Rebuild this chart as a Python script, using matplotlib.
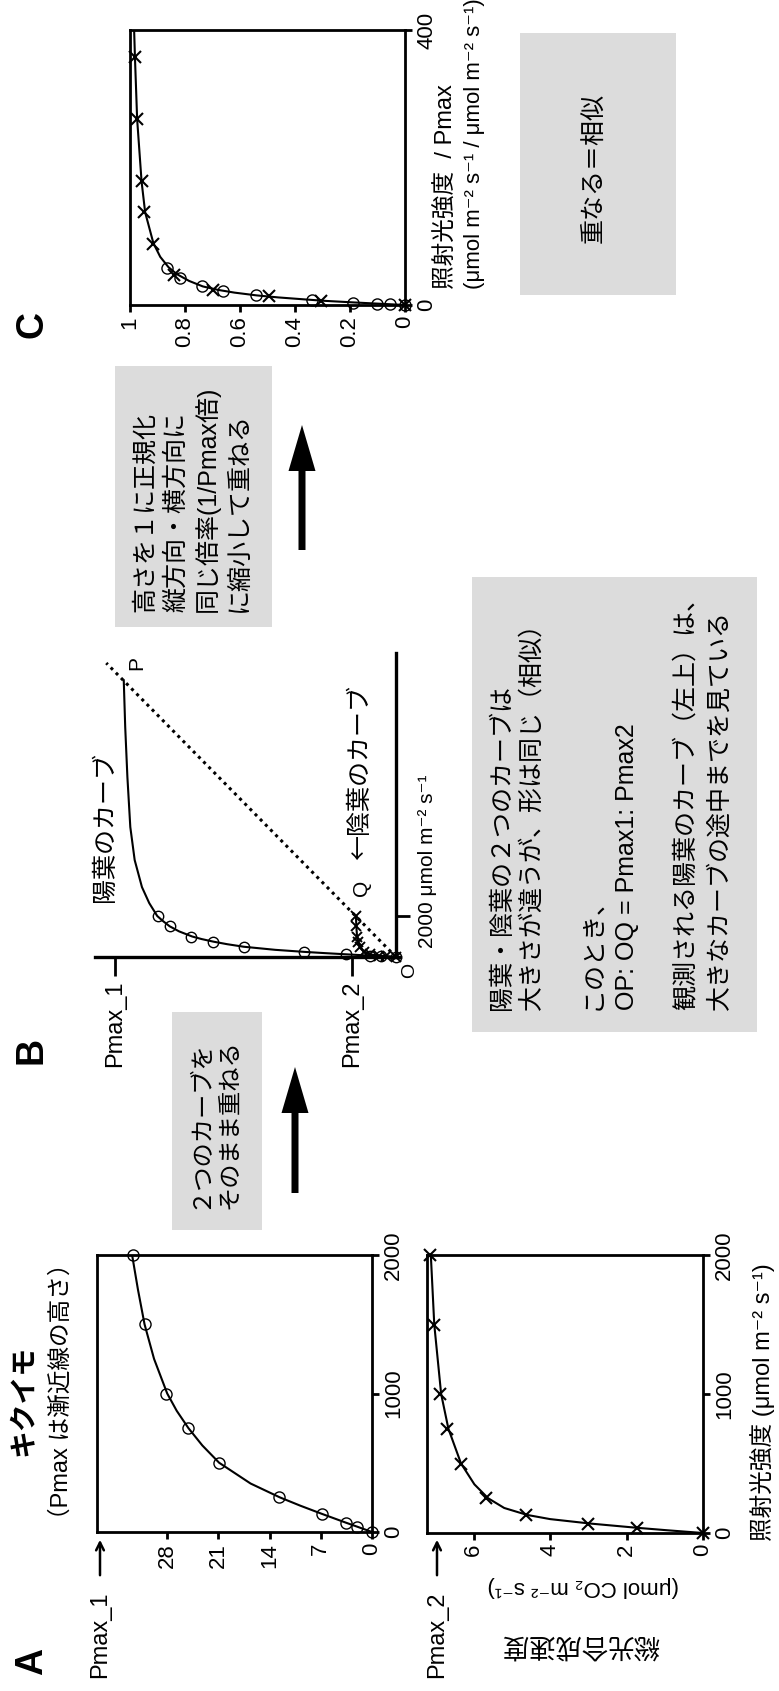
import matplotlib
matplotlib.use('Agg')
import matplotlib.pyplot as plt

plt.rcParams['font.family'] = ['Liberation Sans', 'DejaVu Sans', 'Noto Sans CJK JP']

W, H = 779, 1691

# ---- data ----
light = [0, 38, 68, 130, 250, 500, 750, 1000, 1500, 2000]
sun_p = [0, 2.0, 3.6, 6.8, 12.7, 20.9, 25.1, 28.1, 31.0, 32.7]
shade_p = [0, 1.72, 3.0, 4.62, 5.68, 6.34, 6.7, 6.87, 7.04, 7.13]

sun_curve_l = [0, 38, 68, 130, 190, 250, 350, 500, 625, 750, 875, 1000, 1250, 1500, 1750, 2000]
sun_curve_p = [0, 2.0, 3.6, 6.8, 9.8, 12.6, 16.6, 20.9, 23.2, 25.1, 26.7, 28.0, 29.8, 31.1, 32.0, 32.8]
shade_curve_l = [0, 20, 38, 68, 100, 130, 180, 250, 350, 500, 750, 1000, 1500, 2000]
shade_curve_p = [0, 0.95, 1.75, 2.95, 4.0, 4.6, 5.2, 5.62, 5.98, 6.33, 6.66, 6.85, 7.03, 7.12]

# panel B: sun curve continued up to P, shade curve shrunk
sun_ext_l = [2630, 3410, 4730, 6340, 8780, 11220, 13500]
sun_ext_p = [33.9, 34.9, 35.9, 36.5, 36.9, 37.2, 37.4]
shade_b_p = [0, 1.35, 2.4, 3.6, 4.4, 4.95, 5.2, 5.35, 5.45, 5.5]
diag_p = [0, 39.8]
diag_l = [0, 14340]
pmax_b = [38.6, 6.0]
pmax_b_labels = ['Pmax_1', 'Pmax_2']

# panel C: normalised
c_shade_l = [0, 6.2, 13, 22, 44, 89, 135, 180, 270, 361]
c_shade_p = [0, 0.305, 0.493, 0.697, 0.84, 0.918, 0.948, 0.958, 0.976, 0.982]
c_sun_l = [0, 1, 2, 3.6, 7.8, 14, 20.8, 27, 40, 54.5]
c_sun_p = [0, 0.055, 0.103, 0.188, 0.339, 0.542, 0.663, 0.737, 0.818, 0.867]
c_curve_l = [0, 1, 2, 3.6, 6, 8, 11, 14, 18, 22, 27, 35, 45, 55, 70, 90, 135, 180, 270, 360, 400]
c_curve_p = [0, 0.05, 0.10, 0.18, 0.29, 0.36, 0.46, 0.54, 0.62, 0.68, 0.735, 0.785, 0.83,
             0.86, 0.89, 0.915, 0.945, 0.958, 0.974, 0.982, 0.985]

CJK = ['Noto Sans CJK JP', 'DejaVu Sans']


def box(l, t, r, b):
    return [l / W, 1 - b / H, (r - l) / W, (b - t) / H]


fig = plt.figure(figsize=(W / 100, H / 100), dpi=100)

# overlay in pixel coordinates for boxes, arrows and free text
ov = fig.add_axes([0, 0, 1, 1])
ov.set_xlim(0, W)
ov.set_ylim(H, 0)
ov.axis('off')

grey = '#dcdcdc'
for (l, t, r, b) in [(172, 1012, 262, 1230), (115, 366, 272, 627),
                     (472, 577, 757, 1032), (520, 33, 676, 295)]:
    ov.add_patch(plt.Rectangle((l, t), r - l, b - t, color=grey, lw=0))

for (x, y0, y1) in [(295, 1193, 1067), (302, 550, 425)]:
    ov.arrow(x, y0, 0, y1 - y0, width=7, head_width=27, head_length=46,
             length_includes_head=True, color='k', lw=0)


def vt(x, y, s, size, ha='center', va='center', rot=90, **kw):
    ov.text(x, y, s, fontsize=size, rotation=rot, ha=ha, va=va, **kw)


def style_box(ax):
    for sp in ax.spines.values():
        sp.set_linewidth(2)
    ax.tick_params(direction='out', length=5, width=2, labelsize=16, pad=3)
    ax.yaxis.tick_right()
    for lab in ax.get_xticklabels():
        lab.set_rotation(90)
        lab.set_ha('center')
        lab.set_va('top')
    for lab in ax.get_yticklabels():
        lab.set_rotation(90)
        lab.set_ha('left')
        lab.set_va('center')


# ---- panel A ----
axA1 = fig.add_axes(box(97, 1255, 372, 1532))
axA1.plot(sun_curve_p, sun_curve_l, color='k', lw=1.5)
axA1.plot(sun_p, light, 'o', mfc='none', mec='k', ms=8, mew=1, clip_on=False)
axA1.set_xlim(37.6, 0)
axA1.set_ylim(0, 2000)
axA1.set_xticks([0, 7, 14, 21, 28])
axA1.set_yticks([0, 1000, 2000])
style_box(axA1)

axA2 = fig.add_axes(box(427, 1255, 703, 1533))
axA2.plot(shade_curve_p, shade_curve_l, color='k', lw=1.5)
axA2.plot(shade_p, light, 'x', color='k', ms=9, mew=1.5, clip_on=False)
axA2.set_xlim(7.22, 0)
axA2.set_ylim(0, 2000)
axA2.set_xticks([0, 2, 4, 6])
axA2.set_yticks([0, 1000, 2000])
style_box(axA2)

vt(32, 1661, 'A', 27, weight='bold')
vt(25, 1401, 'キクイモ', 20, weight='bold')
vt(62, 1391, '（Pmax は漸近線の高さ）', 17)
vt(313, 1316, '陽葉', 18)
vt(672, 1316, '陰葉', 18)
vt(100, 1678, 'Pmax_1', 17, va='bottom')
vt(437, 1678, 'Pmax_2', 17, va='bottom')
for x in (100, 437):
    ov.annotate('', xy=(x, 1537), xytext=(x, 1578),
                arrowprops=dict(arrowstyle='->', lw=1.8, color='k', mutation_scale=14))
vt(763, 1541, '照射光強度 (μmol m⁻² s⁻¹)', 17, va='bottom')
vt(580, 1645, '総光合成速度', 19, rot=180)
vt(583, 1587, '(μmol CO₂ m⁻² s⁻¹)', 16, rot=180)
vt(200, 1209, '２つのカーブを', 17.5, va='bottom')
vt(230, 1209, 'そのまま重ねる', 17.5, va='bottom')

# ---- panel B ----
axB = fig.add_axes(box(95, 653, 400, 957))
axB.patch.set_visible(False)
axB.plot(diag_p, diag_l, color='k', lw=2.2, ls=(0, (1, 1.4)))
axB.plot(sun_curve_p + sun_ext_p, sun_curve_l + sun_ext_l, color='k', lw=1.5)
axB.plot(shade_b_p, light, color='k', lw=1.5)
axB.plot(sun_p, light, 'o', mfc='none', mec='k', ms=7.5, mew=1, clip_on=False)
axB.plot(shade_b_p, light, 'x', color='k', ms=7, mew=1.4, clip_on=False)
axB.set_xlim(41.35, -0.55)
axB.set_ylim(0, 14830)
axB.spines['top'].set_visible(False)
axB.spines['left'].set_visible(False)
axB.spines['bottom'].set_linewidth(2.4)
axB.spines['right'].set_linewidth(2.4)
axB.spines['right'].set_position(('data', 0))
axB.yaxis.tick_right()
axB.set_xticks(pmax_b)
axB.set_xticklabels(pmax_b_labels)
axB.set_yticks([2000])
axB.tick_params(axis='x', direction='out', length=14, width=2, labelsize=17, pad=3,
                labelrotation=90)
axB.tick_params(axis='y', direction='out', length=10, width=2, labelright=False)
for lab in axB.get_xticklabels():
    lab.set_va('top')

vt(32, 1050, 'B', 27, weight='bold')
vt(105, 827, '陽葉のカーブ', 18)
vt(137, 663, 'P', 15)
vt(362, 888, 'Q', 15)
vt(360, 772, '←陰葉のカーブ', 18, family=CJK)
vt(410, 970, 'O', 14)
vt(428, 948, '2000 μmol m⁻² s⁻¹', 15, va='bottom')

b_lines = [(502, '陽葉・陰葉の２つのカーブは'),
           (532, '大きさが違うが、形は同じ（相似）'),
           (592, 'このとき、'),
           (627, 'OP: OQ = Pmax1: Pmax2'),
           (687, '観測される陽葉のカーブ（左上）は、'),
           (720, '大きなカーブの途中までを見ている')]
for x, s in b_lines:
    vt(x, 1010, s, 18, va='bottom')

top_lines = [(145, '高さを１に正規化'), (176, '縦方向・横方向に'),
             (207, '同じ倍率(1/Pmax倍)'), (239, 'に縮小して重ねる')]
for x, s in top_lines:
    vt(x, 612, s, 18, va='bottom')

# ---- panel C ----
axC = fig.add_axes(box(130, 30, 405, 305))
axC.plot(c_curve_p, c_curve_l, color='k', lw=1.5)
axC.plot(c_sun_p, c_sun_l, 'o', mfc='none', mec='k', ms=8, mew=1, clip_on=False)
axC.plot(c_shade_p, c_shade_l, 'x', color='k', ms=9, mew=1.5, clip_on=False)
axC.set_xlim(1, 0)
axC.set_ylim(0, 400)
axC.set_xticks([0, 0.2, 0.4, 0.6, 0.8, 1])
axC.set_xticklabels(['0', '0.2', '0.4', '0.6', '0.8', '1'])
axC.set_yticks([0, 400])
style_box(axC)

vt(32, 325, 'C', 27, weight='bold')
vt(447, 289, '照射光強度  / Pmax', 17, va='bottom')
vt(475, 289, '(μmol m⁻² s⁻¹ / μmol m⁻² s⁻¹)', 16, va='bottom')
vt(593, 168, '重なる＝相似', 18)

fig.savefig('out.png', dpi=100)
